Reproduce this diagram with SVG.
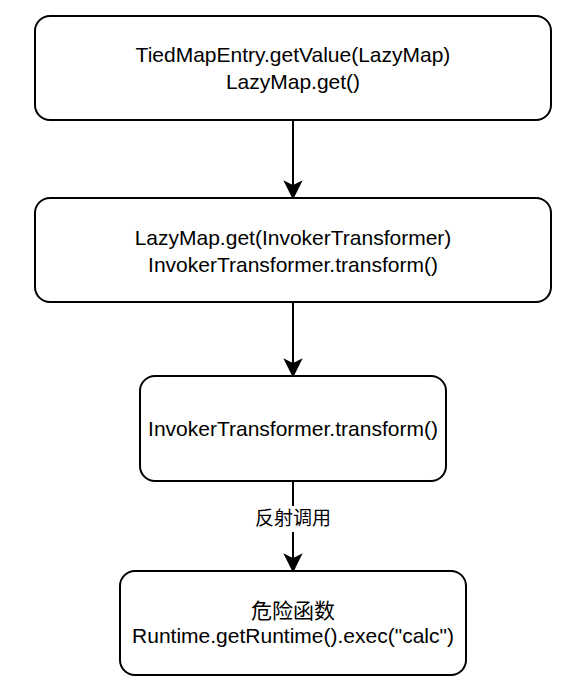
<svg xmlns="http://www.w3.org/2000/svg" width="584" height="689" viewBox="0 0 584 689">
<style>
.box{fill:#ffffff;stroke:#000000;stroke-width:2}
.t{font-family:"Liberation Sans",Arial,"Noto Sans CJK SC",sans-serif;font-size:21px;fill:#000000;text-anchor:middle}
.lbl{font-family:"Liberation Sans",Arial,"Noto Sans CJK SC",sans-serif;font-size:19px;fill:#000000;text-anchor:middle}
.edge{stroke:#000000;stroke-width:2;fill:none}
.head{fill:#000000;stroke:#000000;stroke-width:1.5}
</style>
<rect width="584" height="689" fill="#ffffff"/>
<g id="connectors">
<line class="edge" x1="293" y1="120" x2="293" y2="190"/>
<polygon class="head" points="293,198 285,182 293,186 301,182"/>
<line class="edge" x1="293" y1="302" x2="293" y2="368"/>
<polygon class="head" points="293,376 285,360 293,364 301,360"/>
<line class="edge" x1="293" y1="481" x2="293" y2="563"/>
<polygon class="head" points="293,571 285,555 293,559 301,555"/>
<rect x="252" y="506" width="82" height="26" fill="#ffffff"/>
<text class="lbl" x="293" y="525">反射调用</text>
</g>
<g id="node1">
<rect class="box" x="35" y="16" width="516" height="104" rx="15" ry="15"/>
<text class="t" x="293" y="62">TiedMapEntry.getValue(LazyMap)</text>
<text class="t" x="293" y="89">LazyMap.get()</text>
</g>
<g id="node2">
<rect class="box" x="35" y="198" width="516" height="104" rx="15" ry="15"/>
<text class="t" x="293" y="245">LazyMap.get(InvokerTransformer)</text>
<text class="t" x="293" y="272">InvokerTransformer.transform()</text>
</g>
<g id="node3">
<rect class="box" x="140" y="376" width="306" height="105" rx="15" ry="15"/>
<text class="t" x="293" y="436">InvokerTransformer.transform()</text>
</g>
<g id="node4">
<rect class="box" x="120" y="571" width="346" height="104" rx="15" ry="15"/>
<text class="t" x="293" y="618">危险函数</text>
<text class="t" x="293" y="643">Runtime.getRuntime().exec("calc")</text>
</g>
</svg>
